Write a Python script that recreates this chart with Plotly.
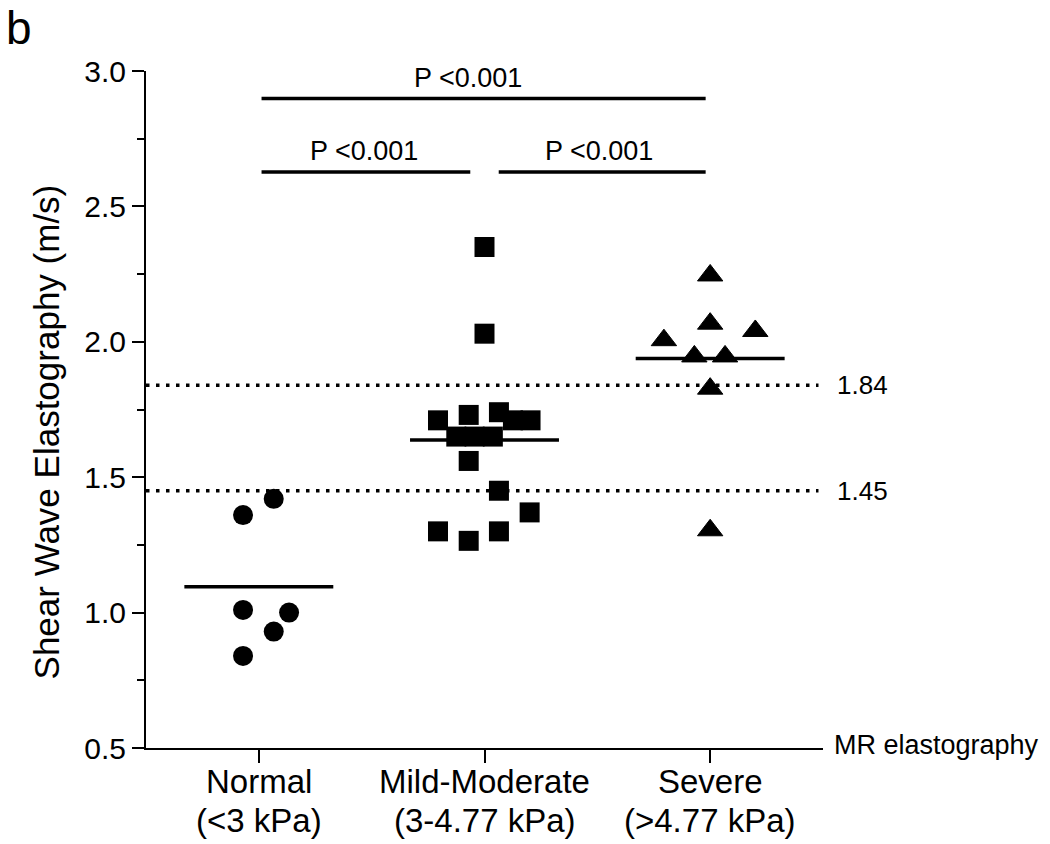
import plotly.graph_objects as go

# ---------------- data ----------------
categories = ["Normal", "Mild-Moderate", "Severe"]
category_sub = ["(&lt;3 kPa)", "(3-4.77 kPa)", "(&gt;4.77 kPa)"]

normal_vals = [1.42, 1.36, 1.01, 1.00, 0.93, 0.84]
mild_vals = [2.35, 2.03, 1.74, 1.73, 1.71, 1.71, 1.71, 1.65, 1.65, 1.65,
             1.56, 1.45, 1.37, 1.30, 1.30, 1.265]
severe_vals = [2.245, 2.067, 2.04, 2.006, 1.946, 1.946, 1.827, 1.304]

group_means = [1.095, 1.637, 1.938]
cutoffs = [1.84, 1.45]
comparisons = [(0, 2), (0, 1), (1, 2)]
p_labels = ["P &lt;0.001", "P &lt;0.001", "P &lt;0.001"]
y_ticks = [0.5, 1.0, 1.5, 2.0, 2.5, 3.0]

# horizontal scatter offsets (layout of the dot plot, in category units)
normal_off = [0.066, -0.070, -0.070, 0.134, 0.066, -0.070]
mild_off = [0.0, 0.0, 0.064, -0.070, -0.206, 0.126, 0.204, -0.125, -0.044,
            0.037, -0.070, 0.064, 0.200, -0.206, 0.064, -0.070]
severe_off = [0.0, 0.0, 0.200, -0.205, -0.070, 0.066, 0.0, 0.0]

# ---------------- styling ----------------
W, H = 1050, 844
ML, MR, MT, MB = 146, 227, 71, 96
REG = "Liberation Sans, Arial, Helvetica, sans-serif"
NARROW = "Liberation Sans Narrow, Arial Narrow, Liberation Sans, Arial, sans-serif"
BLACK = "black"

fig = go.Figure()

groups = [
    (0, normal_vals, normal_off, "circle", 20, 0),
    (1, mild_vals, mild_off, "square", 20, 0),
    (2, severe_vals, severe_off, "triangle-up", 22, 1),
]
for gi, vals, offs, sym, sz, lw in groups:
    fig.add_trace(go.Scatter(
        x=[gi + o for o in offs], y=vals, mode="markers",
        marker=dict(symbol=sym, size=sz, color=BLACK,
                    line=dict(width=lw, color=BLACK)),
        showlegend=False, cliponaxis=False, hoverinfo="y"))

shapes = []
# mean lines
for gi, m in enumerate(group_means):
    shapes.append(dict(type="line", xref="x", yref="y",
                       x0=gi - 0.33, x1=gi + 0.33, y0=m, y1=m,
                       line=dict(color=BLACK, width=3.5)))
# cut-off dotted lines
for c in cutoffs:
    shapes.append(dict(type="line", xref="x", yref="y",
                       x0=-0.5, x1=2.48, y0=c, y1=c, layer="below",
                       line=dict(color=BLACK, width=3.5, dash="3.5px,6.5px")))

annotations = []
bar_level = {0: 2.898, 1: 2.627}
text_shift = [-16, -2, -3]
for k, ((i, j), lab) in enumerate(zip(comparisons, p_labels)):
    x0 = i + (0.063 if i == 1 else 0.012)
    x1 = j - (0.063 if j == 1 else 0.02)
    yb = bar_level[0] if (j - i) == 2 else bar_level[1]
    shapes.append(dict(type="line", xref="x", yref="y", x0=x0, x1=x1,
                       y0=yb, y1=yb, line=dict(color=BLACK, width=3.5)))
    annotations.append(dict(x=(x0 + x1) / 2, y=yb, xref="x", yref="y",
                            text=lab, showarrow=False, xanchor="center",
                            yanchor="middle", yshift=21, xshift=text_shift[k],
                            font=dict(family=REG, size=27, color=BLACK)))

# cut-off labels
for c in cutoffs:
    annotations.append(dict(x=1.0, y=c, xref="paper", yref="y",
                            text=f"{c:.2f}", showarrow=False, xanchor="left",
                            yanchor="middle", xshift=12,
                            font=dict(family=REG, size=26, color=BLACK)))

# category labels (two lines)
for gi, (c1, c2) in enumerate(zip(categories, category_sub)):
    annotations.append(dict(x=gi, y=-0.0495, xref="x", yref="paper", text=c1,
                            showarrow=False, xanchor="center", yanchor="middle",
                            font=dict(family=NARROW, size=33, color=BLACK)))
    annotations.append(dict(x=gi, y=-0.1071, xref="x", yref="paper", text=c2,
                            showarrow=False, xanchor="center", yanchor="middle",
                            font=dict(family=NARROW, size=33, color=BLACK)))

# x-axis title at right end
annotations.append(dict(x=1.0, y=0, xref="paper", yref="paper",
                        text="MR elastography", showarrow=False,
                        xanchor="left", yanchor="middle", xshift=9, yshift=3,
                        font=dict(family=REG, size=27, color=BLACK)))
# y-axis title
annotations.append(dict(x=-0.147, y=0.4668, xref="paper", yref="paper",
                        text="Shear Wave Elastography (m/s)", textangle=-90,
                        showarrow=False, xanchor="center", yanchor="middle",
                        font=dict(family=NARROW, size=35, color=BLACK)))
# panel letter
annotations.append(dict(x=-0.2083, y=1.1044, xref="paper", yref="paper",
                        text="b", showarrow=False, xanchor="left",
                        yanchor="top", xshift=-1, yshift=0,
                        font=dict(family=REG, size=46, color=BLACK)))

fig.update_layout(
    width=W, height=H,
    margin=dict(l=ML, r=MR, t=MT, b=MB, pad=0),
    paper_bgcolor="white", plot_bgcolor="white",
    shapes=shapes, annotations=annotations,
    font=dict(family=REG, color=BLACK),
    xaxis=dict(range=[-0.5, 2.5], tickvals=[0, 1, 2], showticklabels=False,
               ticks="outside", ticklen=13, tickwidth=2, tickcolor=BLACK,
               showline=True, linewidth=2, linecolor=BLACK,
               showgrid=False, zeroline=False, fixedrange=True),
    yaxis=dict(range=[y_ticks[0], y_ticks[-1]], tickvals=y_ticks,
               ticktext=[f"{v:.1f}" for v in y_ticks],
               ticks="outside", ticklen=12, tickwidth=2, tickcolor=BLACK,
               tickfont=dict(family=REG, size=30, color=BLACK),
               showline=True, linewidth=2, linecolor=BLACK,
               showgrid=False, zeroline=False, fixedrange=True,
               minor=dict(tickmode="array",
                          tickvals=[(a + b) / 2 for a, b in zip(y_ticks[:-1], y_ticks[1:])],
                          ticks="outside", ticklen=7, tickwidth=2,
                          tickcolor=BLACK, showgrid=False)),
)

fig.write_html("out.html", config={"displayModeBar": False},
               post_script="document.body.style.margin='0';")
